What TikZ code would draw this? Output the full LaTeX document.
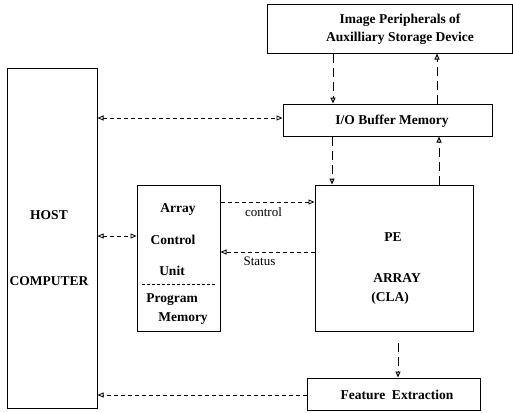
\documentclass[tikz,border=0pt]{standalone}
\usepackage{fontspec}
\setmainfont{Liberation Serif}
\usetikzlibrary{arrows.meta}
\begin{document}
\begin{tikzpicture}[x=1pt,y=-1pt,
  box/.style={draw,line width=1pt},
  lbl/.style={font=\bfseries\fontsize{13.5}{16}\selectfont,inner sep=0pt},
  conn/.style={line width=0.8pt,dash pattern=on 4pt off 3pt,-{Triangle[open,length=6pt,width=5pt]}},
  conn2/.style={line width=0.8pt,dash pattern=on 4pt off 3pt,{Triangle[open,length=6pt,width=5pt]}-{Triangle[open,length=6pt,width=5pt]}},
  vconn/.style={line width=1pt,dash pattern=on 9pt off 5pt,-{Triangle[open,length=6pt,width=5pt]}},
  small/.style={font=\fontsize{13}{15}\selectfont,inner sep=0pt}]
\useasboundingbox (0,0) rectangle (513,412);
% boxes
\node[box,minimum width=245pt,minimum height=48pt] (img) at (389.5,29) {};
\node[lbl,align=center] (imgt) at (400,29.5) {Image Peripherals of\\[2pt]Auxilliary Storage Device};
\node[box,minimum width=209pt,minimum height=32pt] (io) at (387.5,120) {};
\node[lbl] (iot) at (392,121) {I/O Buffer Memory};
\node[box,minimum width=90pt,minimum height=340pt] (host) at (52,238) {};
\node[lbl] (h1) at (49,215) {HOST};
\node[lbl] (h2) at (49,281) {COMPUTER};
\node[box,minimum width=83pt,minimum height=146pt] (acu) at (178.5,258) {};
\node[lbl] (a1) at (178,209) {Array};
\node[lbl] (a2) at (173,240) {Control};
\node[lbl] (a3) at (172,271) {Unit};
\node[lbl] (a4) at (172,300) {Program};
\node[lbl] (a5) at (183,319) {Memory};
\coordinate (dl) at (142,284);
\coordinate (dr) at (215,284);
\draw[line width=0.8pt,dash pattern=on 3pt off 2pt] (dl) -- (dr);
\node[box,minimum width=158pt,minimum height=146pt] (pe) at (394,258) {};
\node[lbl] (p1) at (393,237) {PE};
\node[lbl] (p2) at (397,278) {ARRAY};
\node[lbl] (p3) at (390,298) {(CLA)};
\node[box,minimum width=173pt,minimum height=32pt] (fe) at (393.5,394) {};
\node[lbl] (fet) at (397,395) {Feature\ \ Extraction};
% connectors
\draw[vconn] (img.south -| 333,0) -- (io.north -| 333,0);
\draw[vconn] (io.north -| 437,0) -- (img.south -| 437,0);
\draw[conn2] (host.east |- 0,118) -- (io.west |- 0,118);
\draw[vconn] (io.south -| 332,0) -- (pe.north -| 332,0);
\draw[vconn] (pe.north -| 439,0) -- (io.south -| 439,0);
\draw[conn2] (host.east |- 0,236) -- (acu.west |- 0,236);
\draw[conn] (acu.east |- 0,202) -- node[small,below=5pt,xshift=-4pt] {control} (pe.west |- 0,202);
\draw[conn] (pe.west |- 0,252) -- node[small,below=4pt,xshift=-8pt] {Status} (acu.east |- 0,252);
\coordinate (ps) at (398,343);
\draw[vconn] (ps) -- (fe.north -| ps);
\draw[conn] (fe.west |- 0,395) -- (host.east |- 0,395);
\end{tikzpicture}
\end{document}
